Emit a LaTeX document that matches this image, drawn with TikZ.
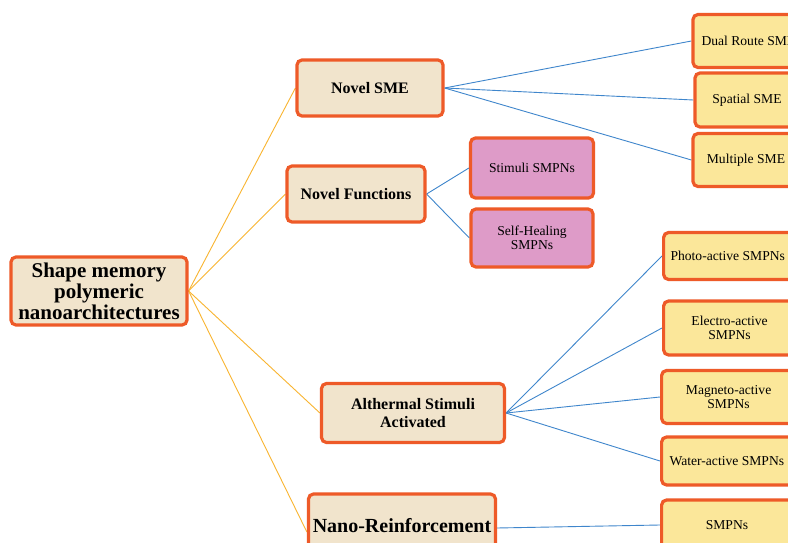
\documentclass[tikz,border=0pt]{standalone}
\usepackage{fontspec}
\setmainfont{Liberation Serif}
\usetikzlibrary{backgrounds}
\definecolor{bord}{HTML}{EE5A28}
\definecolor{beige}{HTML}{F1E4CC}
\definecolor{yel}{HTML}{FBE79A}
\definecolor{pnk}{HTML}{DE9BC8}
\definecolor{oline}{HTML}{F9B530}
\definecolor{bline}{HTML}{3F86CC}
\tikzset{
  x=1pt,y=-1pt,
  box/.style={draw=bord,line width=3.2pt,rounded corners=5pt,align=center,inner sep=2pt},
  mainbox/.style={box,fill=beige,font=\bfseries\fontsize{16}{18}\selectfont},
  leaf/.style={box,fill=yel,font=\fontsize{13.6}{14.5}\selectfont},
  pleaf/.style={box,fill=pnk,font=\fontsize{13.6}{14.5}\selectfont},
  oconn/.style={draw=oline,line width=0.9pt},
  bconn/.style={draw=bline,line width=0.9pt},
}
\begin{document}
\begin{tikzpicture}
\useasboundingbox (0,0) rectangle (788,543);
\clip (0,0) rectangle (788,543);
% root
\node[mainbox,font=\bfseries\fontsize{21}{21}\selectfont,minimum width=176,minimum height=68,inner sep=0pt] (root) at (99,291) {Shape memory\\polymeric\\nanoarchitectures};
% level 1
\node[mainbox,minimum width=146,minimum height=56] (nsme) at (370,88) {Novel SME};
\node[mainbox,minimum width=138,minimum height=56] (nfun) at (356,194) {Novel Functions};
\node[mainbox,minimum width=183,minimum height=59] (alth) at (413,413) {Althermal Stimuli\\Activated};
\node[mainbox,minimum width=187,minimum height=60] (nano) at (402,524) {};
\node[font=\bfseries\fontsize{20}{22}\selectfont] (nanot) at (402,526) {Nano-Reinforcement};
% leaves SME
\node[leaf,minimum width=106,minimum height=53] (dual) at (746,41) {};
\node[font=\fontsize{13.6}{14.5}\selectfont,anchor=west] (dualt) at (698,41) {Dual Route SME};
\node[leaf,minimum width=104,minimum height=54] (spat) at (747,100) {Spatial SME};
\node[leaf,minimum width=106,minimum height=53] (mult) at (746,160) {Multiple SME};
% leaves functions
\node[pleaf,minimum width=123,minimum height=60] (stim) at (532,168) {Stimuli SMPNs};
\node[pleaf,minimum width=122,minimum height=58] (self) at (532,238) {Self-Healing\\SMPNs};
% leaves althermal
\node[leaf,minimum width=132,minimum height=47,anchor=west] (phot) at (662,256) {};
\node[font=\fontsize{13.6}{14.5}\selectfont,anchor=west] (phott) at (667,256) {Photo-active SMPNs};
\node[leaf,minimum width=132,minimum height=54,anchor=west] (elec) at (662,328) {Electro-active\\SMPNs};
\node[leaf,minimum width=134,minimum height=53,anchor=west] (magn) at (660,397) {Magneto-active\\SMPNs};
\node[leaf,minimum width=134,minimum height=48,anchor=west] (watr) at (660,461) {};
\node[font=\fontsize{13.6}{14.5}\selectfont,anchor=west] (watrt) at (666,461) {Water-active SMPNs};
\node[leaf,minimum width=134,minimum height=50,anchor=west] (smpn) at (660,525) {};
\node[font=\fontsize{13.6}{14.5}\selectfont] (smpnt) at (727,525) {SMPNs};
\begin{scope}[on background layer]
\fill[white] (0,0) rectangle (788,543);
\draw[oconn] (root.east) -- (nsme.west);
\draw[oconn] (root.east) -- (nfun.west);
\draw[oconn] (root.east) -- (alth.west);
\draw[oconn] (root.east) -- ([yshift=-8pt]nano.west);
\draw[bconn] (nsme.east) -- (dual.west);
\draw[bconn] (nsme.east) -- (spat.west);
\draw[bconn] (nsme.east) -- (mult.west);
\draw[bconn] (nfun.east) -- (stim.west);
\draw[bconn] (nfun.east) -- (self.west);
\draw[bconn] (alth.east) -- (phot.west);
\draw[bconn] (alth.east) -- (elec.west);
\draw[bconn] (alth.east) -- (magn.west);
\draw[bconn] (alth.east) -- (watr.west);
\draw[bconn] ([yshift=-4pt]nano.east) -- (smpn.west);
\end{scope}
\end{tikzpicture}
\end{document}
